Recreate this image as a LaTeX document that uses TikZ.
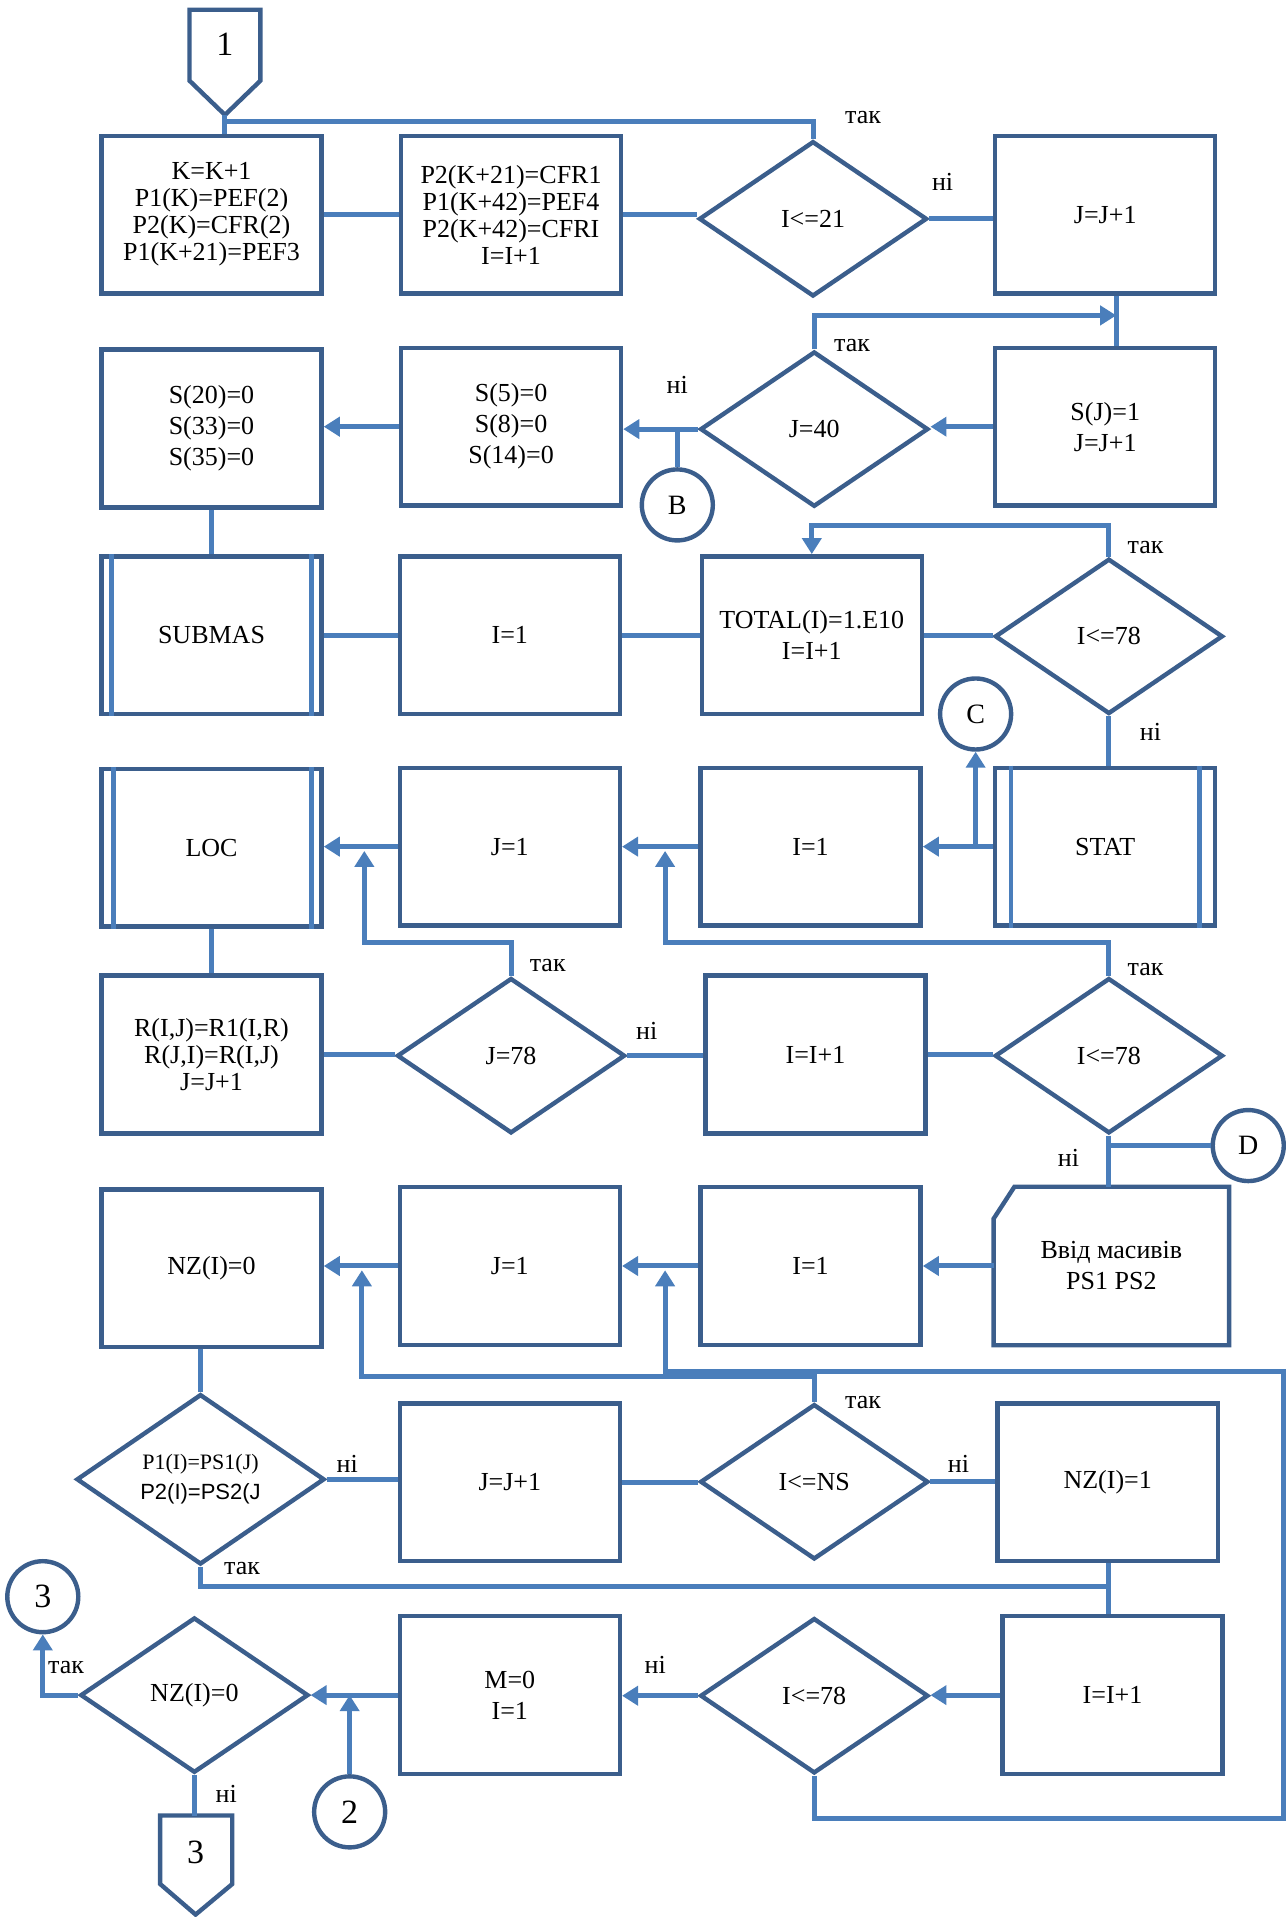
\documentclass[tikz,border=0pt]{standalone}
\usepackage{fontspec}
\setmainfont{Liberation Serif}
\newfontfamily\sansf{Liberation Sans}
\usetikzlibrary{shapes.geometric,arrows.meta}
\definecolor{boxc}{HTML}{3B5E8C}
\definecolor{linec}{HTML}{4A7EBB}
\tikzset{
    proc/.style={draw=boxc, line width=2.2pt, fill=white, minimum width=110pt, minimum height=78.8pt, inner sep=2pt, align=center, font=\fontsize{13}{15.5}\selectfont},
    decis/.style={diamond, draw=boxc, line width=2.2pt, fill=white, minimum width=114pt, minimum height=77.6pt, inner sep=0pt, align=center, font=\fontsize{13}{15.5}\selectfont},
    conn/.style={circle, draw=boxc, line width=2.2pt, fill=white, minimum size=35.5pt, inner sep=0pt, font=\fontsize{14}{16}\selectfont},
    pagec/.style={draw=boxc, line width=2.2pt},
    lbl/.style={font=\fontsize{13}{15}\selectfont},
    ln/.style={draw=linec, line width=2.5pt},
    arr/.style={ln, -{Triangle[width=9.5pt,length=8pt]}},
    sideln/.style={draw=linec, line width=2.4pt},
}

\begin{document}
\begin{tikzpicture}[x=0.6111pt, y=-0.6111pt]
    \useasboundingbox (0,0) rectangle (1053,1568);
    % Off-page connector at the top.
        \draw[pagec] (155,8) -- (213,8) -- (213,66) -- (184,94) -- (155,66) -- cycle;
        \node[font=\fontsize{17}{17}\selectfont] (o1) at (184,36) {1};
        \coordinate (p1) at (184,94);
    % Row one.
        \node[proc, font=\fontsize{13}{13.5}\selectfont] (kk) at (173,175.5) {K=K+1\\P1(K)=PEF(2)\\P2(K)=CFR(2)\\P1(K+21)=PEF3};
        \node[proc, font=\fontsize{13}{13.5}\selectfont] (pp) at (418,175.5) {P2(K+21)=CFR1\\P1(K+42)=PEF4\\P2(K+42)=CFRI\\I=I+1};
        \node[decis] (d1) at (665,179) {I<=21};
        \node[proc] (jj) at (904,175.5) {J=J+1};
    % Row two.
        \node[proc] (s20) at (173,350.5) {S(20)=0\\S(33)=0\\S(35)=0};
        \node[proc] (s5) at (418,349) {S(5)=0\\S(8)=0\\S(14)=0};
        \node[decis] (d2) at (666,351) {J=40};
        \node[proc] (sj) at (904,349) {S(J)=1\\J=J+1};
        \node[conn] (cb) at (554,413) {B};
    % Row three.
        \node[proc] (sub) at (173,519.5) {SUBMAS};
        \draw[sideln] ([xshift=6pt]sub.north west) -- ([xshift=6pt]sub.south west) ([xshift=-6pt]sub.north east) -- ([xshift=-6pt]sub.south east);
        \node[proc] (i1) at (417,519.5) {I=1};
        \node[proc] (tot) at (664,519.5) {TOTAL(I)=1.E10\\I=I+1};
        \node[decis] (d3) at (907,520.5) {I<=78};
        \node[conn] (cc) at (798,584) {C};
    % Row four.
        \node[proc] (loc) at (173,693.5) {LOC};
        \draw[sideln] ([xshift=7pt]loc.north west) -- ([xshift=7pt]loc.south west) ([xshift=-6pt]loc.north east) -- ([xshift=-6pt]loc.south east);
        \node[proc] (j2) at (417,692.5) {J=1};
        \node[proc] (i2) at (663,692.5) {I=1};
        \node[proc] (stat) at (904,692.5) {STAT};
        \draw[sideln] ([xshift=9pt]stat.north west) -- ([xshift=9pt]stat.south west) ([xshift=-9pt]stat.north east) -- ([xshift=-9pt]stat.south east);
    % Row five.
        \node[proc, font=\fontsize{13}{13.5}\selectfont] (rr) at (173,862.5) {R(I,J)=R1(I,R)\\R(J,I)=R(I,J)\\J=J+1};
        \node[decis] (d5) at (418,863.5) {J=78};
        \node[proc] (ii1) at (667,862.5) {I=I+1};
        \node[decis] (d6) at (907,863.5) {I<=78};
        \node[conn] (cd) at (1021,937) {D};
    % Row six.
        \node[proc] (nz0) at (173,1037.5) {NZ(I)=0};
        \node[proc] (j3) at (417,1035.5) {J=1};
        \node[proc] (i3) at (663,1035.5) {I=1};
        \node[minimum width=117.3pt, minimum height=78.8pt, align=center, font=\fontsize{13}{15.5}\selectfont] (inp) at (909,1035.5) {Ввід масивів\\PS1 PS2};
        \draw[pagec] ([xshift=10.4pt]inp.north west) -- (inp.north east) -- (inp.south east) -- (inp.south west) -- ([yshift=-16pt]inp.north west) -- cycle;
    % Row seven.
        \node[decis, minimum width=124pt, minimum height=77pt, font=\fontsize{11}{15}\selectfont] (d7) at (164,1210) {P1(I)=PS1(J)\\{\sansf P2(I)=PS2(J}};
        \node[proc] (j4) at (417,1212.5) {J=J+1};
        \node[decis] (d8) at (666,1212) {I<=NS};
        \node[proc] (nz1) at (906,1212.5) {NZ(I)=1};
    % Row eight.
        \node[decis] (d10) at (159,1386.5) {NZ(I)=0};
        \node[proc] (mm) at (417,1386.5) {M=0\\I=1};
        \node[decis] (d9) at (666,1387) {I<=78};
        \node[proc] (ii2) at (910,1386.5) {I=I+1};
        \node[conn, font=\fontsize{17}{17}\selectfont] (c2) at (286,1482) {2};
        \node[conn, font=\fontsize{17}{17}\selectfont] (c3) at (35,1306) {3};
    % Off-page connector at the bottom.
        \draw[pagec] (131,1485) -- (190,1485) -- (190,1541) -- (160,1566) -- (131,1541) -- cycle;
        \node[font=\fontsize{17}{17}\selectfont] (o3) at (160,1515) {3};
        \coordinate (p3) at (160,1485);
    % Connectors, row by row.
        \coordinate (t1) at (184,99);
        \draw[ln] (p1) -- (t1) -| (d1.north);
        \draw[ln] (t1) -- (t1 |- kk.north);
        \draw[ln] (kk.east) -- (pp.west);
        \draw[ln] (pp.east) -- (pp.east -| d1.west);
        \draw[ln] (d1.east) -- (d1.east -| jj.west);
        \coordinate (t2) at (913,258);
        \draw[ln] (t2 |- jj.south) -- (t2 |- sj.north);
        \draw[arr] (d2.north) |- (t2);
        \draw[arr] (sj.west) -- (sj.west -| d2.east);
        \draw[arr] (d2.west) -- (d2.west -| s5.east);
        \draw[ln] (cb.north) -- (cb.north |- d2.west);
        \draw[arr] (s5.west) -- (s5.west -| s20.east);
        \draw[ln] (s20.south) -- (sub.north);
        \draw[ln] (sub.east) -- (i1.west);
        \draw[ln] (i1.east) -- (tot.west);
        \draw[ln] (tot.east) -- (tot.east -| d3.west);
        \draw[arr] (d3.north) -- ++(0,-25) -| (tot.north);
        \draw[ln] (d3.south) -- (d3.south |- stat.north);
        \draw[arr] (stat.west) -- (stat.west -| i2.east);
        \draw[arr] (cc.south |- stat.west) -- (cc.south);
        \draw[arr] (i2.west) -- (j2.east);
        \draw[arr] (j2.west) -- (j2.west -| loc.east);
        \draw[ln] (loc.south) -- (rr.north);
        \coordinate (f1) at (298,696);
        \coordinate (f2) at (544,696);
        \draw[arr] (d5.north) -- ++(0,-27) -| (f1);
        \draw[arr] (d6.north) -- ++(0,-27) -| (f2);
        \draw[ln] (rr.east) -- (rr.east -| d5.west);
        \draw[ln] (d5.east) -- (d5.east -| ii1.west);
        \draw[ln] (ii1.east) -- (ii1.east -| d6.west);
        \draw[ln] (d6.south) -- (d6.south |- inp.north);
        \draw[ln] (cd.west) -- (cd.west -| d6.south);
        \draw[arr] (inp.west) -- (inp.west -| i3.east);
        \draw[arr] (i3.west) -- (j3.east);
        \draw[arr] (j3.west) -- (j3.west -| nz0.east);
        \coordinate (f3) at (296,1039);
        \coordinate (f4) at (544,1039);
        \coordinate (rt) at (1050,1122);
        \draw[ln] (d7.north |- nz0.south) -- (d7.north);
        \draw[arr] (d8.north) -- ++(0,-21) -| (f3);
        \draw[arr] (d9.south) -- ++(0,35) -| (rt) -| (f4);
        \draw[ln] (d7.east) -- (d7.east -| j4.west);
        \draw[ln] (j4.east) -- (j4.east -| d8.west);
        \draw[ln] (d8.east) -- (d8.east -| nz1.west);
        \coordinate (m1) at (907,1298);
        \draw[ln] (d7.south) |- (m1);
        \draw[ln] (nz1.south -| m1) -- (ii2.north -| m1);
        \draw[arr] (ii2.west) -- (ii2.west -| d9.east);
        \draw[arr] (d9.west) -- (d9.west -| mm.east);
        \draw[arr] (mm.west) -- (mm.west -| d10.east);
        \draw[arr] (c2.north) -- (c2.north |- d10.east);
        \draw[arr] (d10.west) -| (c3.south);
        \draw[ln] (d10.south) -- (d10.south |- p3);
    % Below nodes are the yes/no labels.
        \node[lbl] (y1) at (706,96) {так};
        \node[lbl] (n1) at (771,149) {ні};
        \node[lbl] (y2) at (697,283) {так};
        \node[lbl] (n2) at (554,315) {ні};
        \node[lbl] (y3) at (937,448) {так};
        \node[lbl] (n3) at (941,599) {ні};
        \node[lbl] (y4) at (448,790) {так};
        \node[lbl] (y5) at (937,793) {так};
        \node[lbl] (n4) at (529,843) {ні};
        \node[lbl] (n5) at (874,947) {ні};
        \node[lbl] (y6) at (706,1147) {так};
        \node[lbl] (n6) at (284,1197) {ні};
        \node[lbl] (n7) at (784,1197) {ні};
        \node[lbl] (y7) at (198,1283) {так};
        \node[lbl] (y8) at (54,1364) {так};
        \node[lbl] (n8) at (536,1362) {ні};
        \node[lbl] (n9) at (185,1467) {ні};
\end{tikzpicture}
\end{document}
